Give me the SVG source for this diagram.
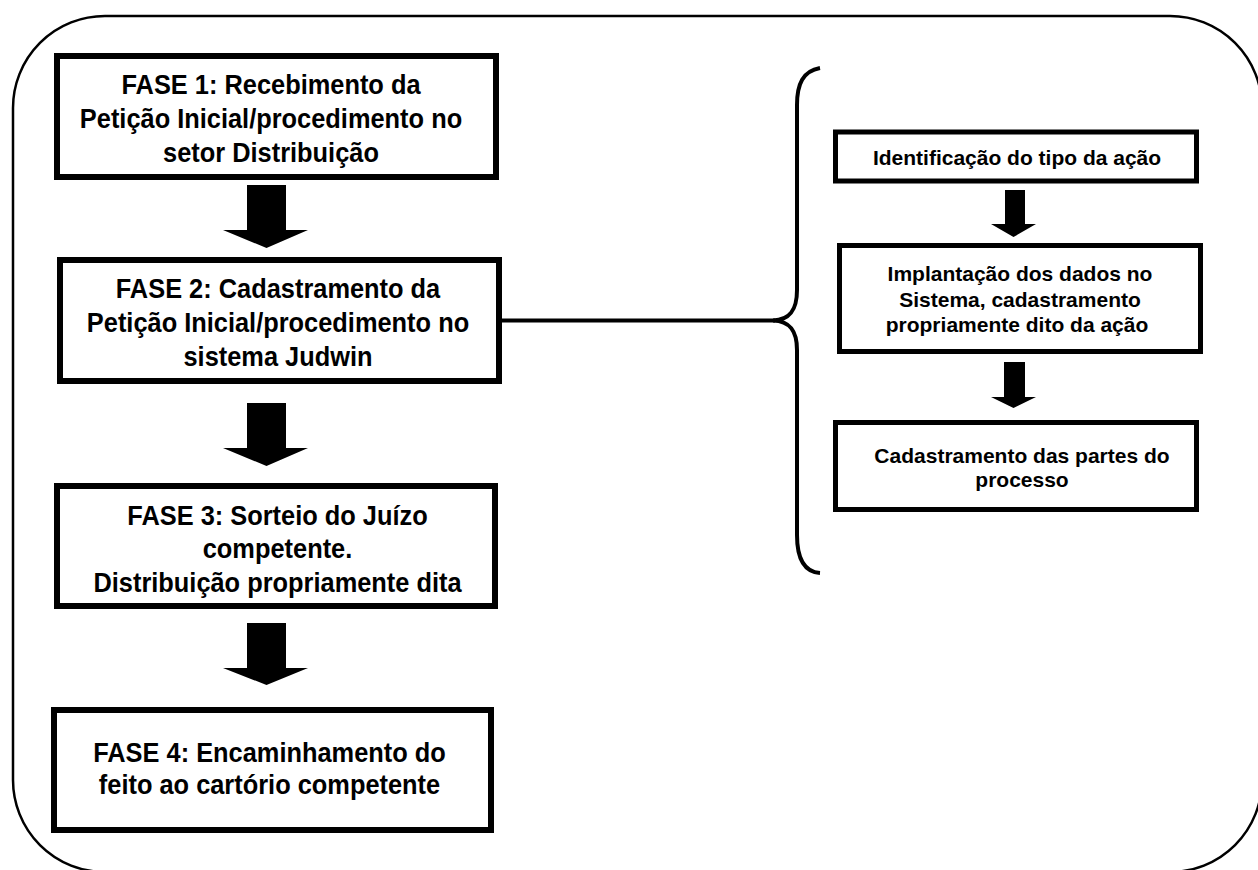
<svg xmlns="http://www.w3.org/2000/svg" width="1258" height="870" viewBox="0 0 1258 870">
<style>
.frame{fill:none;stroke:#000;stroke-width:2.5}
.big{fill:#fff;stroke:#000;stroke-width:6}
.small{fill:#fff;stroke:#000;stroke-width:5}
.bt{font-family:"Liberation Sans",Arial,sans-serif;font-weight:bold;font-size:25.4px;text-anchor:middle;fill:#000}
.st{font-family:"Liberation Sans",Arial,sans-serif;font-weight:bold;font-size:21px;text-anchor:middle;fill:#000}
.arrow{fill:#000;stroke:none}
.conn{fill:none;stroke:#000;stroke-width:4}
</style>
<rect class="frame" x="13" y="16" width="1249" height="856" rx="92" ry="92"/>
<g id="fase1">
<rect class="big" x="57" y="56" width="439" height="121"/>
<text class="bt" transform="translate(271,94.3) scale(1,1.12)"><tspan x="0" y="0">FASE 1: Recebimento da</tspan><tspan x="0" dy="30.1">Petição Inicial/procedimento no</tspan><tspan x="0" dy="30.1">setor Distribuição</tspan></text>
</g>
<g id="fase2">
<rect class="big" x="60" y="260" width="439" height="121"/>
<text class="bt" transform="translate(278,298.3) scale(1,1.12)"><tspan x="0" y="0">FASE 2: Cadastramento da</tspan><tspan x="0" dy="30.4">Petição Inicial/procedimento no</tspan><tspan x="0" dy="30.4">sistema Judwin</tspan></text>
</g>
<g id="fase3">
<rect class="big" x="57" y="486" width="438" height="120"/>
<text class="bt" transform="translate(277.5,525) scale(1,1.12)"><tspan x="0" y="0">FASE 3: Sorteio do Juízo</tspan><tspan x="0" dy="29.8">competente.</tspan><tspan x="0" dy="29.8">Distribuição propriamente dita</tspan></text>
</g>
<g id="fase4">
<rect class="big" x="54" y="710" width="437" height="120"/>
<text class="bt" transform="translate(269.5,762) scale(1,1.12)"><tspan x="0" y="0">FASE 4: Encaminhamento do</tspan><tspan x="0" dy="28.9">feito ao cartório competente</tspan></text>
</g>
<g id="identificacao">
<rect class="small" x="835.5" y="132" width="361" height="49"/>
<text class="st" x="1017" y="165">Identificação do tipo da ação</text>
</g>
<g id="implantacao">
<rect class="small" x="839.5" y="245.5" width="361" height="106"/>
<text class="st"><tspan x="1020" y="281">Implantação dos dados no</tspan><tspan x="1020" y="306.5">Sistema, cadastramento</tspan><tspan x="1017" y="332">propriamente dito da ação</tspan></text>
</g>
<g id="partes">
<rect class="small" x="835.5" y="422.5" width="361" height="87"/>
<text class="st"><tspan x="1022" y="463">Cadastramento das partes do</tspan><tspan x="1022" y="487">processo</tspan></text>
</g>
<g id="connectors">
<polygon class="arrow" points="247,185 286,185 286,230 308,230 266.5,248 223,230 247,230"/>
<polygon class="arrow" points="247,403 286,403 286,448 308,448 266.5,466 223,448 247,448"/>
<polygon class="arrow" points="247,623 286,623 286,668 308,668 266.5,685 223,668 247,668"/>
<polygon class="arrow" points="1005,190 1025,190 1025,224 1036,224 1013.5,237 991,224 1005,224"/>
<polygon class="arrow" points="1004,362 1025,362 1025,397 1036,397 1013.5,408 991,397 1004,397"/>
<line class="conn" x1="499" y1="320.5" x2="775" y2="320.5"/>
<path class="conn" d="M820,68 C803,71 797,84 797,105 L797,290 C797,310 790,320 773,320.5 C790,321 797,331 797,350 L797,535 C797,560 805,572 820,573"/>
</g>
</svg>
